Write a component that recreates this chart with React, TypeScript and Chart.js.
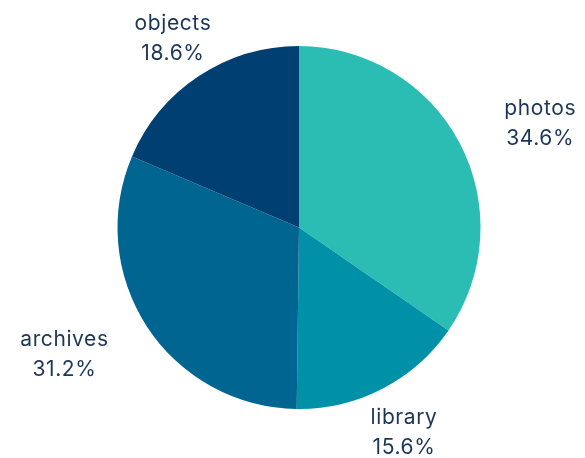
import React, { useEffect, useRef } from "react";
import { Chart, registerables } from "chart.js";

Chart.register(...registerables);

const categories = ["photos", "library", "archives", "objects"];
const shares = [34.6, 15.6, 31.2, 18.6];
const sliceColors = ["#2bbdb4", "#0091a8", "#006590", "#003f72"];

const FONT = "Inter, 'Open Sans', sans-serif";

const outsideLabels = {
  id: "outsideLabels",
  afterDatasetsDraw(chart: any) {
    const ctx = chart.ctx;
    const meta = chart.getDatasetMeta(0);
    ctx.save();
    ctx.fillStyle = "#1c3659";
    ctx.font = `400 21px ${FONT}`;
    try {
      (ctx as any).letterSpacing = "0.6px";
    } catch (e) {}
    ctx.textBaseline = "middle";
    ctx.textAlign = "center";
    meta.data.forEach((arc: any, i: number) => {
      const p = arc.getProps(["startAngle", "endAngle", "outerRadius", "x", "y"], true);
      const mid = (p.startAngle + p.endAngle) / 2;
      const vx = Math.cos(mid);
      const vy = Math.sin(mid);
      const R = p.outerRadius + 47;
      const ax = p.x + vx * R;
      const ay = p.y + vy * R + 2;
      const l1 = categories[i];
      const l2 = shares[i].toFixed(1) + "%";
      const bw = Math.max(ctx.measureText(l1).width, ctx.measureText(l2).width);
      let cx = ax;
      if (Math.abs(vx) > 0.707) {
        cx = vx > 0 ? ax + 3 + bw / 2 : ax + 1 - bw / 2;
      }
      const lh = 30;
      ctx.fillText(l1, cx, ay - lh / 2);
      ctx.fillText(l2, cx, ay + lh / 2);
    });
    ctx.restore();
  },
};

export default function App() {
  const ref = useRef<HTMLCanvasElement>(null);
  useEffect(() => {
    if (!ref.current) return;
    const chart = new Chart(ref.current, {
      type: "pie",
      data: {
        labels: categories,
        datasets: [
          {
            data: shares,
            backgroundColor: sliceColors,
            borderWidth: 0,
          },
        ],
      },
      options: {
        responsive: false,
        animation: false,
        layout: { padding: { left: 109.5, right: 96.5, top: 38, bottom: 49 } },
        plugins: {
          legend: { display: false },
          tooltip: { enabled: false },
        },
      },
      plugins: [outsideLabels],
    });
    return () => chart.destroy();
  }, []);
  return <canvas ref={ref} width={569} height={450} style={{ display: "block" }} />;
}
